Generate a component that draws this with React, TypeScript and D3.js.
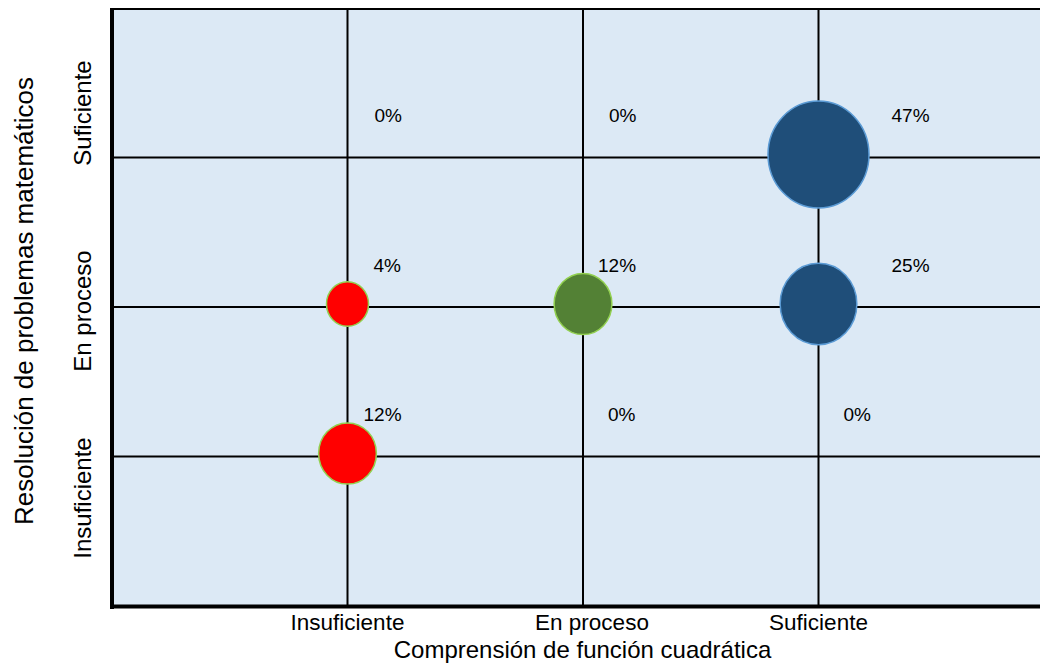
import React from "react";
import * as d3 from "d3";

// Category names shared by both axes
const levels = ["Insuficiente", "En proceso", "Suficiente"];

// Bubble values (%) : x = comprensión level, y = resolución level
const bubbleX = [1, 2, 3, 1, 2, 3, 1, 2, 3];
const bubbleY = [3, 3, 3, 2, 2, 2, 1, 1, 1];
const bubbleValue = [0, 0, 47, 4, 12, 25, 12, 0, 0];

// Label horizontal offsets from each bubble centre
const labelDx = [27, 26, 73, 26, 15, 73, 16, 25, 25];

// Fill and outline per comprensión level
const fillByLevel = ["#ff0000", "#538135", "#1f4e79"];
const strokeByLevel = ["#92d050", "#92d050", "#5b9bd5"];

// Tick label nudges
const xTickDx = [0, 9, 0];
const yTickDy = [41.5, 4, -44.5];

const W = 1040;
const H = 668;
const FONT = "'Liberation Sans', Arial, Helvetica, sans-serif";

export default function App() {
  const x = d3.scaleLinear().domain([0, 4]).range([112, 1054]);
  const y = d3.scaleLinear().domain([0, 4]).range([606, 8]);
  // bubble size grows with the square root of the share
  const r = d3.scaleSqrt().domain([0, 52]).range([0, 50.5]);
  const ratio = 1.06;

  const plotLeft = 112;
  const plotTop = 8;
  const plotBottom = 606;

  return (
    <svg
      width={W}
      height={H}
      style={{ position: "absolute", left: 0, top: 0, background: "#ffffff" }}
      fontFamily={FONT}
    >
      {/* plot background */}
      <rect x={plotLeft} y={plotTop} width={W - plotLeft} height={plotBottom - plotTop} fill="#dce9f5" />

      {/* grid */}
      {[1, 2, 3].map((v) => (
        <line key={"gx" + v} x1={x(v)} x2={x(v)} y1={plotTop} y2={plotBottom} stroke="#000" strokeWidth={2} />
      ))}
      {[1, 2, 3].map((v) => (
        <line key={"gy" + v} x1={plotLeft} x2={W} y1={y(v)} y2={y(v)} stroke="#000" strokeWidth={2} />
      ))}

      {/* frame */}
      <line x1={110} x2={W} y1={9} y2={9} stroke="#000" strokeWidth={2} />
      <line x1={112} x2={112} y1={8} y2={609} stroke="#000" strokeWidth={4} />
      <line x1={110} x2={W} y1={606.5} y2={606.5} stroke="#000" strokeWidth={4} />

      {/* bubbles */}
      {bubbleValue.map((v, i) =>
        v > 0 ? (
          <ellipse
            key={"b" + i}
            cx={x(bubbleX[i])}
            cy={y(bubbleY[i]) - 3}
            rx={r(v + 5)}
            ry={r(v + 5) * ratio}
            fill={fillByLevel[bubbleX[i] - 1]}
            stroke={strokeByLevel[bubbleX[i] - 1]}
            strokeWidth={1.5}
          />
        ) : null
      )}

      {/* value labels */}
      {bubbleValue.map((v, i) => (
        <text key={"l" + i} x={x(bubbleX[i]) + labelDx[i]} y={y(bubbleY[i]) - 35.5} fontSize={19} fill="#000">
          {v + "%"}
        </text>
      ))}

      {/* x tick labels */}
      {levels.map((t, i) => (
        <text key={"xt" + i} x={x(i + 1) + xTickDx[i]} y={630} fontSize={22.5} textAnchor="middle" fill="#000">
          {t}
        </text>
      ))}

      {/* y tick labels */}
      {levels.map((t, i) => (
        <text
          key={"yt" + i}
          transform={`translate(91,${y(i + 1) + yTickDy[i]}) rotate(-90)`}
          fontSize={24}
          textAnchor="middle"
          fill="#000"
        >
          {t}
        </text>
      ))}

      {/* axis titles */}
      <text x={582.5} y={658} fontSize={24} textAnchor="middle" fill="#000">
        Comprensión de función cuadrática
      </text>
      <text transform="translate(33,301) rotate(-90)" fontSize={26} textAnchor="middle" fill="#000">
        Resolución de problemas matemáticos
      </text>
    </svg>
  );
}
